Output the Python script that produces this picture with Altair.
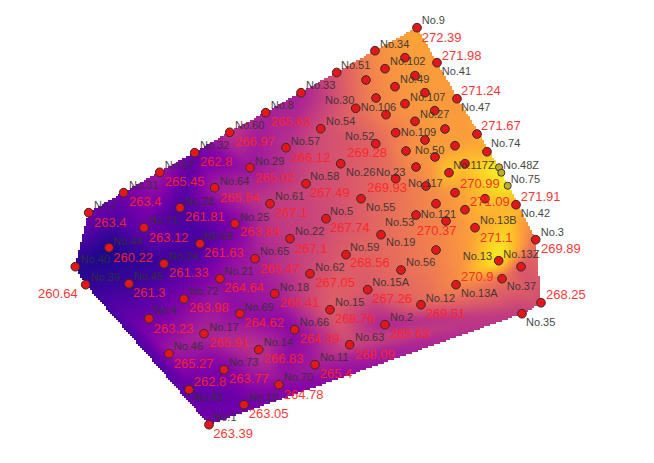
import altair as alt
import numpy as np
import pandas as pd

alt.data_transformers.disable_max_rows()

# Sample points: position and the field level
px = [417,437,457,477,487,516,535.7,541,522,521,502,498.7,456,421,475,465,485,455,465,449,499,501.3,507.7,
      426,416,436,416,446,436,401,381,395.7,361,340.7,375.7,395.7,406,425,445,455,435,434.7,415,405,425,415,
      405,395,385,386,376,366,375,355.7,336.7,320.7,301,265.7,229.7,194.7,159.7,123.7,88.7,180,214.7,250,286,
      306,270,235,144,109,200,75.3,164,85.7,129,220,255,290,326,346,310,367.7,330,385,349.7,315,294.7,274.7,
      240,184,149,204,169,258.7,224,189,279,244,209]
py = [27.7,62.7,98.7,134,151.7,204.7,239.7,302.7,313.7,266.7,278.7,260.7,284.7,304.7,227.7,209.7,198.7,192.7,163.7,172.7,167.3,172.7,185.7,
      186,167,203.7,215,221,250,270,234.7,178.7,198.7,163.7,143.7,132.7,151,140,129,145.7,157,110.7,121.3,103.7,92.7,75.7,
      57.7,86.7,68.7,114.7,98,80,50.7,108.3,72.5,128.7,92.7,112.7,132.3,152.7,172.3,192.7,212.7,207.7,187.7,167.7,147.7,
      183.7,203.7,223.7,227.7,247.7,243.7,266.7,263.7,284.7,283.7,278.7,258.7,238.7,218.7,254.7,273.7,289.7,309.7,324.7,344.7,364.7,329.7,293.7,
      313.7,299,318.7,333.7,353.7,349.7,369.7,389.7,384.7,404.7,424.7]
pz = [272.39,271.98,271.8,272,272.6,273,270,268.25,267,268.5,270,275.5,271.2,269.5,272.3,272.2,273.5,271.8,273.5,274,275.3,275.3,275.3,
      271,271.3,271.2,270.5,271,270.8,269.8,269.6,269.93,269,268.5,269.28,270.5,271.2,271.7,272,272,272,272,271.5,271.6,272,272,
      272,271.5,271.5,270.9,271,270.5,271.2,269.6,268.5,268,265.6,265.63,266.97,262.8,265.45,263.4,263.4,261.81,265.54,265.02,266.5,
      267.7,267.1,263.84,263.12,260.22,261.63,260.64,261.33,260.9,261.3,264.64,265.47,267.1,267.9,269,267.8,268.8,269,265.63,268.09,265.4,264.39,265.41,
      264.62,263.98,263.23,265.91,265.27,266.83,263.77,262.8,264.78,263.05,263.39]
olive_x = [499,501.3,507.7]
olive_y = [167.3,172.7,185.7]

# Station names
name_text = ["No.9","No.41","No.47","No.74","No.48Z","No.75","No.42","No.3","No.13Z","No.37","No.13","No.13A","No.35","No.12",
             "No.13B","No.117Z","No.117","No.121","No.56","No.53","No.19","No.23","No.26","No.55","No.52","No.109","No.50",
             "No.27","No.107","No.49","No.102","No.34","No.106","No.30","No.51","No.54","No.33","No.8","No.60","No.32","No.67",
             "No.31","No.7","No.28","No.64","No.29","No.57","No.58","No.61","No.25","No.71","No.44","No.68","No.40","No.24",
             "No.39","No.45","No.21","No.65","No.22","No.5","No.59","No.62","No.15A","No.15","No.2","No.63","No.11","No.66",
             "No.18","No.69","No.72","No.4","No.17","No.46","No.14","No.73","No.43","No.70","No.10","No.1"]
name_x = [421.7,441.7,461,491,503,510.7,520.7,540.7,503.3,506.7,462.7,461,526,425.7,
          480,453.3,408,420.7,406,385,386,376,346,366,345,400.7,415,
          420,410,400,390,380,360.7,325,341,326,306,270.7,235,200,164.7,
          129,94,185,220,255,290.7,310,275,240,149.3,113.3,204,80.7,169,
          90.7,133.7,224.3,260,295,330,350,315.3,372.3,335,390,355,320,299.7,
          279.7,244.3,189,153.7,209.3,173.7,263.7,229,193.3,283.7,248.7,213.3]
name_y = [21,72.3,108,144.3,165.7,180,214.3,233.3,255,287,256.7,294,322.7,299,
          220.7,165.7,184.3,215,263,223.3,243.3,173.3,173.3,208.3,137,133.3,151,
          115,97.5,80,61.7,44.7,108.3,101,66,122,86,105.7,126,146,166,
          186,205.7,201.7,182,162,142,176.7,196.7,217.7,221,241.7,236.7,260,257.3,
          278.3,277,272.3,251.7,232.3,212.3,248,268,282.7,302.7,317.7,337.7,358,322.7,
          288.3,308,292,311.3,328,347.3,343.3,362.7,398.3,378,397.7,418]

# Printed readings
val_text = ["272.39","271.98","271.24","271.67","271.91","269.89","268.25","270.99","271.09","271.1","270.9","269.51",
            "270.37","269.93","269.28","265.63","266.97","262.8","265.45","263.4","263.4","261.81","265.54","265.02","266.12",
            "267.49","267.1","263.84","263.12","260.22","261.63","260.64","261.33","261.3","264.64","265.47","267.1","267.74",
            "268.56","267.05","267.26","268.76","265.63","268.09","265.4","264.39","265.41","264.62","263.98","263.23",
            "265.91","265.27","266.83","263.77","262.8","264.78","263.05","263.39"]
val_x = [421.7,441.7,461,481,520.7,541,546,460,470,480,461,425.7,
         416.7,367.3,347.3,270.7,235,200,164.7,129,94,185,220,255,290.7,
         310,275,240,148.7,113.3,204,38,169,133,224.3,260,295,330,
         350,315.3,372.3,335,390,355,319.7,299.7,279.7,244.3,189,153.7,
         209.3,173.7,263.7,229,193.7,283.7,248.7,213.3]
val_y = [37.7,56,90.7,125.7,196.7,249.3,294.7,184.3,202.3,237.7,277.3,314,
         230.7,188.3,153.3,122.3,142.3,162.3,182.3,202.3,222.7,217.3,197.7,177.7,157.7,
         193.3,213.3,232.3,237.7,257.7,252.7,294,272.7,293,288.3,268.7,249,228.3,
         263.3,283.3,299,319,334.3,354.7,374.3,339.3,303.3,323.3,308.3,328.7,
         343.3,363.7,358.7,378.7,381.7,394.7,414.3,434.3]

assert len(px) == len(py) == len(pz)
assert len(name_text) == len(name_x) == len(name_y)
assert len(val_text) == len(val_x) == len(val_y)


def delaunay(pts):
    """Bowyer-Watson triangulation of the sample points."""
    n = len(pts)
    all_pts = np.vstack([pts, [[-5000, -5000], [7000, -5000], [1000, 7000]]])
    tris = [(n, n + 1, n + 2)]

    def in_circle(t, p):
        a, b, c = all_pts[list(t)] - p
        det = (a @ a) * (b[0] * c[1] - c[0] * b[1]) - (b @ b) * (a[0] * c[1] - c[0] * a[1]) + (c @ c) * (a[0] * b[1] - b[0] * a[1])
        o = (all_pts[t[1]][0] - all_pts[t[0]][0]) * (all_pts[t[2]][1] - all_pts[t[0]][1]) - (all_pts[t[1]][1] - all_pts[t[0]][1]) * (all_pts[t[2]][0] - all_pts[t[0]][0])
        return det * o > 0

    for i in range(n):
        bad = [t for t in tris if in_circle(t, all_pts[i])]
        edges = {}
        for t in bad:
            for e in ((t[0], t[1]), (t[1], t[2]), (t[2], t[0])):
                k = tuple(sorted(e))
                edges[k] = edges.get(k, 0) + 1
        tris = [t for t in tris if t not in bad]
        for (u, v), count in edges.items():
            if count == 1:
                tris.append((u, v, i))
    return [t for t in tris if max(t) < n]


pts = np.column_stack([px, py])
zs = np.array(pz)
STEP = 2
xs = np.arange(70, 546, STEP)
ys = np.arange(24, 430, STEP)
gx, gy = np.meshgrid(xs + STEP / 2, ys + STEP / 2)
field = np.full(gx.shape, np.nan)
for t in delaunay(pts):
    (x0, y0), (x1, y1), (x2, y2) = pts[list(t)]
    d = (y1 - y2) * (x0 - x2) + (x2 - x1) * (y0 - y2)
    if abs(d) < 1e-9:
        continue
    a = ((y1 - y2) * (gx - x2) + (x2 - x1) * (gy - y2)) / d
    b = ((y2 - y0) * (gx - x2) + (x0 - x2) * (gy - y2)) / d
    c = 1 - a - b
    inside = (a >= -0.012) & (b >= -0.012) & (c >= -0.012)
    fresh = inside & np.isnan(field)
    field[fresh] = (a * zs[t[0]] + b * zs[t[1]] + c * zs[t[2]])[fresh]

mask = ~np.isnan(field)


def soften(f, m, r=2, passes=2):
    """Normalised box blur that stays inside the sampled region."""
    v = np.where(m, f, 0.0)
    w = m.astype(float)
    for _ in range(passes):
        for axis in (0, 1):
            kv = np.zeros_like(v)
            kw = np.zeros_like(w)
            for s in range(-r, r + 1):
                kv += np.roll(v, s, axis=axis)
                kw += np.roll(w, s, axis=axis)
            v, w = kv, kw
            norm = w.max()
            v, w = v / norm, w / norm
    return v / np.where(w > 0, w, 1)


smooth = soften(field, mask)
cells = pd.DataFrame({
    "x": (gx[mask] - STEP / 2).astype(int),
    "y": (gy[mask] - STEP / 2).astype(int),
    "z": np.round(smooth[mask], 2),
})
cells["x2"] = cells["x"] + STEP
cells["y2"] = cells["y"] + STEP

X = alt.Scale(domain=[8, 646], nice=False, zero=False)
Y = alt.Scale(domain=[8, 455], nice=False, zero=False, reverse=True)
xe = alt.X("x:Q", scale=X, axis=None)
ye = alt.Y("y:Q", scale=Y, axis=None)

heat = alt.Chart(cells).mark_rect(strokeWidth=0).encode(
    x=xe, x2="x2:Q", y=ye, y2="y2:Q",
    color=alt.Color("z:Q", scale=alt.Scale(scheme="plasma", domain=[260, 275.5], clamp=True), legend=None),
)

olive_set = set(zip(olive_x, olive_y))
is_olive = [(a, b) in olive_set for a, b in zip(px, py)]
pt_df = pd.DataFrame({"x": px, "y": py, "olive": is_olive})
dots = alt.Chart(pt_df[~pt_df.olive]).mark_point(
    filled=True, shape="circle", size=76, fill="#e3171b", stroke="#3a2a2a", strokeWidth=1, opacity=1
).encode(x=xe, y=ye)
olive = alt.Chart(pt_df[pt_df.olive]).mark_point(
    filled=True, shape="circle", size=50, fill="#c2aa2b", stroke="#3a3a2a", strokeWidth=1, opacity=1
).encode(x=xe, y=ye)

names = alt.Chart(pd.DataFrame({"x": name_x, "y": name_y, "t": name_text})).mark_text(
    align="left", baseline="middle", font="Liberation Sans", fontSize=11, color="#333333", opacity=0.9
).encode(x=xe, y=ye, text="t:N")
vals = alt.Chart(pd.DataFrame({"x": val_x, "y": val_y, "t": val_text})).mark_text(
    align="left", baseline="middle", font="Liberation Sans", fontSize=13, color="#ff2424", opacity=0.9
).encode(x=xe, y=ye, text="t:N")

chart = alt.layer(heat, olive, dots, names, vals).properties(
    width=638, height=447, padding=0, autosize=alt.AutoSizeParams(type="none")
).configure_view(stroke=None)

chart.save("out.html", embed_options={"renderer": "svg", "actions": False})
